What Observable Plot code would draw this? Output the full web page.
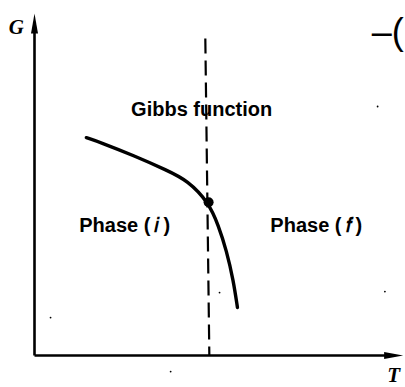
<!DOCTYPE html>
<html>
<head>
<meta charset="utf-8">
<script src="https://cdn.jsdelivr.net/npm/d3@7"></script>
<script src="https://cdn.jsdelivr.net/npm/@observablehq/plot@0.6"></script>
<style>
  html, body { margin: 0; padding: 0; background: #fff; }
  #chart svg { display: block; }
</style>
</head>
<body>
<div id="chart"></div>
<script>
// Gibbs function G against temperature T across a phase transition
const curveT = [14.2, 18.1, 27.1, 36.4, 41.9, 47.7, 50.4, 52.6, 54.5, 55.6];
const curveG = [63.7, 62.3, 58.5, 54.1, 51.2, 44.8, 38.0, 30.7, 21.9, 14.0];

// transition temperature (dashed line) and point where the curve crosses it
const transitionT = [46.8, 47.9];
const transitionG = [92.7, 0];
const crossing = {T: 47.7, G: 44.8};

// labels
const labels = [
  {T: 45.8, G: 72.0, text: "Gibbs function"},
  {T: 24.7, G: 38.0, text: "Phase (\u2009\u{1D456}\u2009)"},
  {T: 77.2, G: 38.0, text: "Phase (\u2009\u{1D453}\u2009)"}
];
const axisLabels = [
  {T: -5.0, G: 96.0, text: "G"},
  {T: 98.4, G: -5.8, text: "T"}
];
const axisEnd = {T: 101, G: 100};

// stray ink specks
const specksT = [94.0, 50.7, 4.4, 37.3, 96.0];
const specksG = [72.8, 18.4, 11.1, -4.7, 18.7];

const curve = curveT.map((T, i) => ({T, G: curveG[i]}));
const specks = specksT.map((T, i) => ({T, G: specksG[i]}));

// narrow filled arrowheads, tip at the origin
const headUp = {draw(ctx) { ctx.moveTo(0, 0); ctx.lineTo(-3.5, 20); ctx.lineTo(3.5, 20); ctx.closePath(); }};
const headRight = {draw(ctx) { ctx.moveTo(0, 0); ctx.lineTo(-19, -3.5); ctx.lineTo(-19, 3.5); ctx.closePath(); }};

const textFont = "'Liberation Sans', Arial, sans-serif";

const chart = Plot.plot({
  width: 405,
  height: 387,
  marginLeft: 34,
  marginRight: 6,
  marginTop: 13,
  marginBottom: 32,
  x: {domain: [0, 100], axis: null},
  y: {domain: [0, 100], axis: null},
  marks: [
    // axes
    Plot.link([0], {x1: 0, y1: 0, x2: 0, y2: axisEnd.G - 3, stroke: "#000", strokeWidth: 2.6}),
    Plot.link([0], {x1: 0, y1: 0, x2: axisEnd.T - 3, y2: 0, stroke: "#000", strokeWidth: 2.6}),
    Plot.dot([axisEnd], {x: 0, y: "G", symbol: headUp, fill: "#000", stroke: "none"}),
    Plot.dot([axisEnd], {x: "T", y: 0, symbol: headRight, fill: "#000", stroke: "none"}),
    // transition line
    Plot.link([0], {x1: transitionT[0], y1: transitionG[0], x2: transitionT[1], y2: transitionG[1],
      stroke: "#000", strokeWidth: 2.2, strokeDasharray: "15 7"}),
    // Gibbs function curve
    Plot.line(curve, {x: "T", y: "G", curve: "basis", stroke: "#000", strokeWidth: 3.4, strokeLinecap: "round"}),
    Plot.dot([crossing], {x: "T", y: "G", r: 5, fill: "#000", stroke: "none"}),
    // labels
    Plot.text(labels, {x: "T", y: "G", text: "text", fontSize: 20, fontWeight: "bold",
      fontFamily: textFont, fill: "#000", letterSpacing: "0.6px"}),
    Plot.text(axisLabels, {x: "T", y: "G", text: "text", fontSize: 21, fontWeight: "bold",
      fontStyle: "italic", fontFamily: "'Liberation Serif', 'DejaVu Serif', serif", fill: "#000"}),
    Plot.text(["\u2013("], {x: 92.4, y: 94.5, textAnchor: "start", fontSize: 36,
      fontFamily: textFont, fill: "#000"}),
    Plot.dot(specks, {x: "T", y: "G", r: 0.9, fill: "#000", stroke: "none"})
  ]
});
document.getElementById("chart").append(chart);
</script>
</body>
</html>
